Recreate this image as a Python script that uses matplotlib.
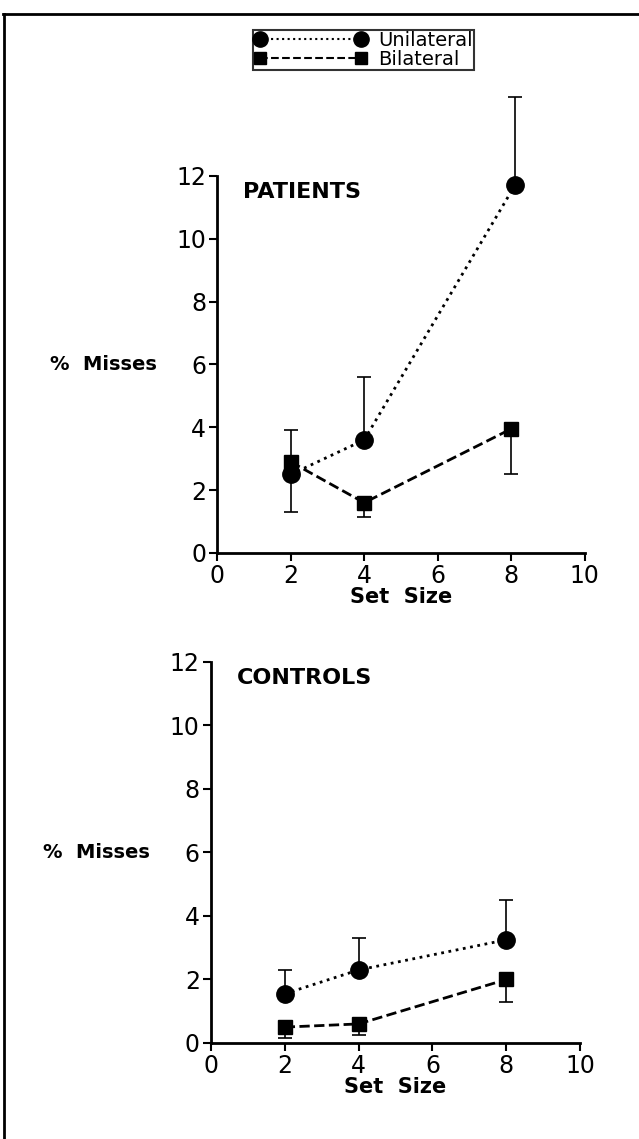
import matplotlib.pyplot as plt
from matplotlib.lines import Line2D

# set sizes
set_size = [2, 4, 8]

# pacjenci
pat_uni = [2.5, 3.6, 11.7]
pat_uni_x = [2, 4, 8.1]
pat_uni_lo = [1.2, 0, 0]
pat_uni_hi = [0, 2.0, 2.8]
pat_bi = [2.9, 1.6, 3.95]
pat_bi_lo = [0, 0.45, 1.45]
pat_bi_hi = [1.0, 0, 0]

# kontrola
con_uni = [1.55, 2.3, 3.25]
con_uni_lo = [0, 0, 0]
con_uni_hi = [0.75, 1.0, 1.25]
con_bi = [0.5, 0.6, 2.0]
con_bi_lo = [0.35, 0.35, 0.7]
con_bi_hi = [0, 0, 0]

yticks = [0, 2, 4, 6, 8, 10, 12]
xticks = [0, 2, 4, 6, 8, 10]

plt.rcParams['font.family'] = ['DejaVu Sans']

fig = plt.figure(figsize=(6.39, 11.39), dpi=100)


def panel(rect, title, uni_x, uni, uni_err, bi_x, bi, bi_err):
    ax = fig.add_axes(rect)
    ax.errorbar(uni_x, uni, yerr=uni_err, fmt='o', color='black', ms=12.5,
                ecolor='black', elinewidth=1.2, capsize=5, capthick=1.2,
                clip_on=False, zorder=3)
    ax.plot(uni_x, uni, ':', color='black', lw=2, zorder=2)
    ax.errorbar(bi_x, bi, yerr=bi_err, fmt='s', color='black', ms=9.5,
                ecolor='black', elinewidth=1.2, capsize=5, capthick=1.2,
                clip_on=False, zorder=3)
    ax.plot(bi_x, bi, '--', color='black', lw=2, zorder=2)
    ax.set_xlim(0, 10)
    ax.set_ylim(0, 12)
    ax.set_xticks(xticks)
    ax.set_yticks(yticks)
    ax.tick_params(labelsize=17, length=6, width=1.5, direction='out', pad=2)
    ax.spines['top'].set_visible(False)
    ax.spines['right'].set_visible(False)
    ax.spines['left'].set_linewidth(2)
    ax.spines['bottom'].set_linewidth(2)
    ax.set_xlabel('Set  Size', fontsize=15, fontweight='bold', labelpad=-1)
    ax.text(-0.455, 0.5, '%  Misses', transform=ax.transAxes, fontsize=14,
            fontweight='bold', va='center', ha='left')
    ax.text(0.07, 0.985, title, transform=ax.transAxes, fontsize=16,
            fontweight='bold', va='top', ha='left')
    return ax


panel([0.340, 0.5145, 0.575, 0.331], 'PATIENTS',
      pat_uni_x, pat_uni, [pat_uni_lo, pat_uni_hi],
      set_size, pat_bi, [pat_bi_lo, pat_bi_hi])
panel([0.330, 0.0843, 0.578, 0.3345], 'CONTROLS',
      set_size, con_uni, [con_uni_lo, con_uni_hi],
      set_size, con_bi, [con_bi_lo, con_bi_hi])

# legenda
handles = [
    Line2D([0], [0], ls=':', marker='o', color='black', ms=11, lw=1.5),
    Line2D([0], [0], ls='--', marker='s', color='black', ms=8, lw=1.5),
]
leg = fig.legend(handles, ['Unilateral', 'Bilateral'], loc='upper left',
                 bbox_to_anchor=(253 / 639, 1 - 30 / 1139), numpoints=2,
                 handlelength=5.8, fontsize=14, frameon=True, fancybox=False,
                 borderpad=0.05, labelspacing=0.0, handletextpad=0.6,
                 borderaxespad=0)
leg.get_frame().set_edgecolor('black')
leg.get_frame().set_linewidth(1.5)

# ramka
fig.add_artist(Line2D([0.005, 1.0], [1 - 14 / 1139, 1 - 14 / 1139],
                      color='black', lw=2, transform=fig.transFigure))
fig.add_artist(Line2D([0.006, 0.006], [0.0, 1 - 14 / 1139],
                      color='black', lw=2, transform=fig.transFigure))

fig.savefig('out.png', dpi=100)
